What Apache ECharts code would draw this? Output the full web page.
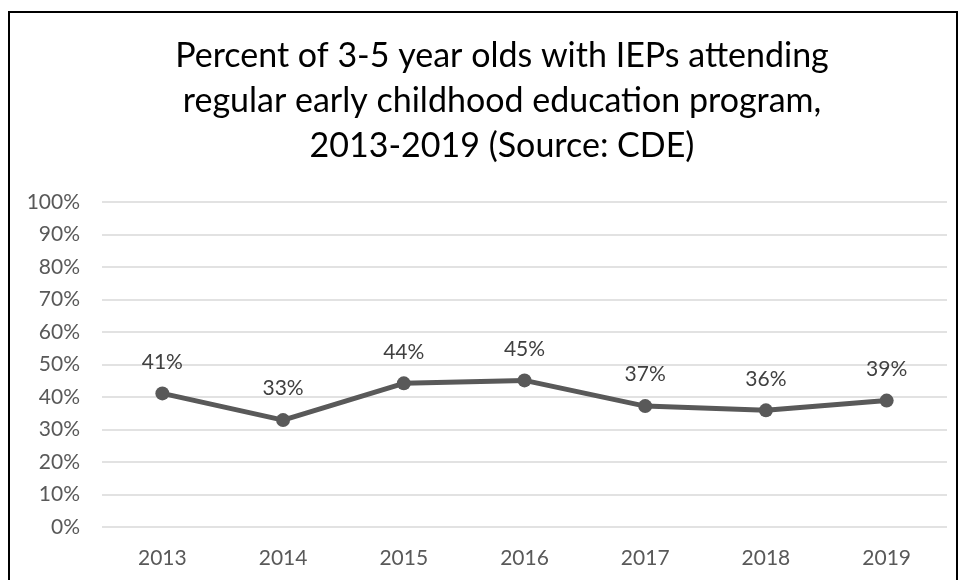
<!DOCTYPE html>
<html>
<head>
<meta charset="utf-8">
<script src="https://cdn.jsdelivr.net/npm/echarts@6/dist/echarts.min.js"></script>
<style>html,body{margin:0;padding:0;background:#fff}#c{width:963px;height:580px}</style>
</head>
<body>
<div id="c"></div>
<script>
const titleText = "Percent of 3-5 year olds with IEPs attending\nregular early childhood education program,\n2013-2019 (Source: CDE)";
const years = ["2013", "2014", "2015", "2016", "2017", "2018", "2019"];
const percents = [41.1, 32.9, 44.2, 45.1, 37.2, 35.9, 38.9];

const chart = echarts.init(document.getElementById('c'));
const font = 'Lato, "Open Sans", sans-serif';
chart.setOption({
  animation: false,
  backgroundColor: '#fff',
  graphic: [{
    type: 'rect', shape: {x: 9, y: 12, width: 948, height: 600},
    style: {fill: 'none', stroke: '#000', lineWidth: 2}, silent: true
  }],
  title: {
    text: titleText,
    left: 497, top: 29, textAlign: 'center',
    textStyle: {fontFamily: font, fontSize: 34, fontWeight: 'normal', color: '#000', lineHeight: 45}
  },
  grid: {left: 102, right: 16, top: 202, bottom: 53, containLabel: false},
  xAxis: {
    type: 'category', data: years, boundaryGap: true,
    axisLine: {show: false}, axisTick: {show: false},
    axisLabel: {color: '#595959', fontFamily: font, fontSize: 21, margin: 21}
  },
  yAxis: {
    type: 'value', min: 0, max: 100, interval: 10,
    axisLabel: {formatter: '{value}%', color: '#595959', fontFamily: font, fontSize: 21, margin: 22},
    splitLine: {lineStyle: {color: '#d9d9d9', width: 1.5}},
    axisLine: {show: false}, axisTick: {show: false}
  },
  series: [{
    type: 'line', data: percents,
    symbol: 'circle', symbolSize: 14,
    lineStyle: {color: '#595959', width: 5},
    itemStyle: {color: '#595959'},
    label: {
      show: true, position: 'top', distance: 14,
      formatter: p => Math.round(p.value) + '%',
      color: '#404040', fontFamily: font, fontSize: 21
    }
  }]
});
</script>
</body>
</html>
